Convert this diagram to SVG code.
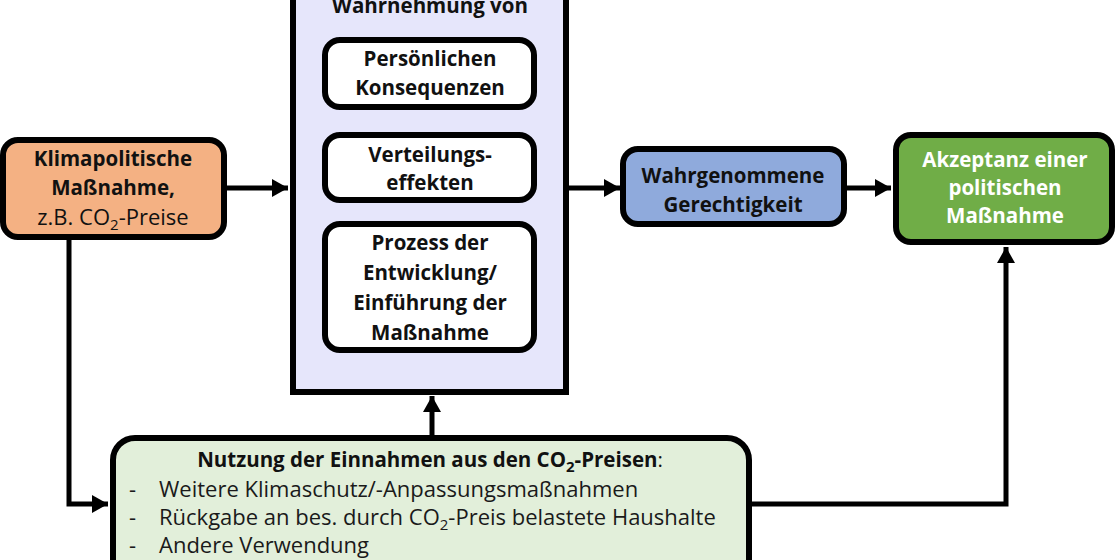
<svg xmlns="http://www.w3.org/2000/svg" width="1120" height="560" viewBox="0 0 1120 560">
<defs>
<style>
.box{stroke:#000;stroke-width:6}
.t{font-family:"Open Sans","Liberation Sans",sans-serif;font-size:20.5px;text-anchor:middle;fill:#111}
.b{font-weight:bold}
.r{font-size:22px}
.w{fill:#fff}
.l{font-family:"Open Sans","Liberation Sans",sans-serif;font-size:22px;fill:#1a1a1a}
.conn{fill:none;stroke:#000;stroke-width:5}
</style>
<marker id="ah" markerUnits="userSpaceOnUse" markerWidth="16" markerHeight="18" refX="16" refY="9" orient="auto">
<path d="M0,0 L16,9 L0,18 z" fill="#000"/>
</marker>
</defs>
<rect width="1120" height="560" fill="#fff"/>

<g id="connectors">
<path class="conn" d="M227,188 L288,188" marker-end="url(#ah)"/>
<path class="conn" d="M569,188 L620,188" marker-end="url(#ah)"/>
<path class="conn" d="M846,188 L891,188" marker-end="url(#ah)"/>
<path class="conn" d="M69,240 L69,504 L108,504" marker-end="url(#ah)"/>
<path class="conn" d="M432,435 L432,396" marker-end="url(#ah)"/>
<path class="conn" d="M752,504 L1006,504 L1006,247" marker-end="url(#ah)"/>
</g>

<g id="node-klimapolitik">
<rect class="box" x="3" y="140" width="221" height="97" rx="15" fill="#F4B183"/>
<text class="t b" x="113" y="166">Klimapolitische</text>
<text class="t b" x="113" y="195">Maßnahme,</text>
<text class="t r" x="113" y="225">z.B. CO<tspan font-size="15" dy="5">2</tspan><tspan dy="-5">-Preise</tspan></text>
</g>

<g id="node-wahrnehmung">
<rect class="box" x="293" y="-20" width="273" height="412" fill="#E6E6FB"/>
<text class="t b" x="430" y="13">Wahrnehmung von</text>
</g>

<g id="node-konsequenzen">
<rect class="box" x="325" y="40" width="209" height="67" rx="15" fill="#fff"/>
<text class="t b" x="430" y="66">Persönlichen</text>
<text class="t b" x="430" y="95">Konsequenzen</text>
</g>

<g id="node-verteilung">
<rect class="box" x="325" y="135" width="209" height="65" rx="15" fill="#fff"/>
<text class="t b" x="430" y="162">Verteilungs-</text>
<text class="t b" x="430" y="190">effekten</text>
</g>

<g id="node-prozess">
<rect class="box" x="325" y="224" width="209" height="126" rx="15" fill="#fff"/>
<text class="t b" x="430" y="250">Prozess der</text>
<text class="t b" x="430" y="280">Entwicklung/</text>
<text class="t b" x="430" y="310">Einführung der</text>
<text class="t b" x="430" y="340">Maßnahme</text>
</g>

<g id="node-gerechtigkeit">
<rect class="box" x="623" y="149" width="221" height="75" rx="15" fill="#8FAADC"/>
<text class="t b" x="733" y="183">Wahrgenommene</text>
<text class="t b" x="733" y="212">Gerechtigkeit</text>
</g>

<g id="node-akzeptanz">
<rect class="box" x="896" y="135" width="216" height="107" rx="15" fill="#70AD47"/>
<text class="t b w" x="1005" y="167">Akzeptanz einer</text>
<text class="t b w" x="1005" y="195">politischen</text>
<text class="t b w" x="1005" y="223">Maßnahme</text>
</g>

<g id="node-nutzung">
<rect class="box" x="113" y="438" width="636" height="160" rx="22" fill="#E2EFDA"/>
<text class="t" x="430" y="467" font-size="21"><tspan font-weight="bold">Nutzung der Einnahmen aus den CO</tspan><tspan font-weight="bold" font-size="15" dy="5">2</tspan><tspan font-weight="bold" dy="-5">-Preisen</tspan>:</text>
<text class="l" x="129" y="497">-</text>
<text class="l" x="159" y="497">Weitere Klimaschutz/-Anpassungsmaßnahmen</text>
<text class="l" x="129" y="525">-</text>
<text class="l" x="159" y="525">Rückgabe an bes. durch CO<tspan font-size="15" dy="5">2</tspan><tspan dy="-5">-Preis belastete Haushalte</tspan></text>
<text class="l" x="129" y="553">-</text>
<text class="l" x="159" y="553">Andere Verwendung</text>
</g>
</svg>
